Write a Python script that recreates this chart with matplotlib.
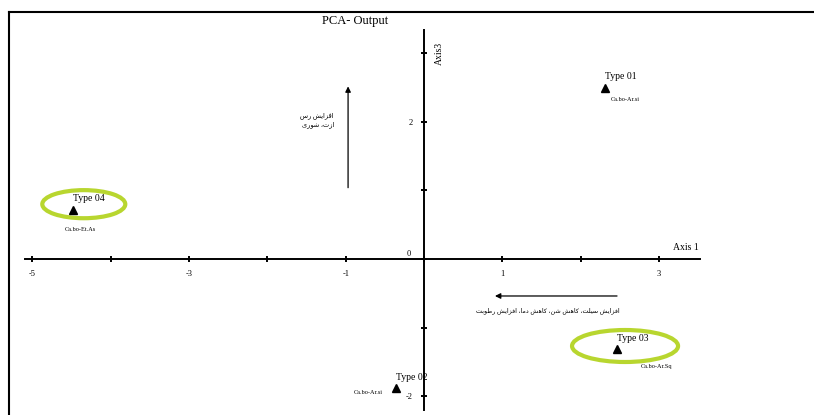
import matplotlib
matplotlib.use("Agg")
import matplotlib.pyplot as plt
from matplotlib.lines import Line2D
from matplotlib.patches import Ellipse

plt.rcParams["font.family"] = ["Liberation Serif", "DejaVu Sans"]

# ---- data ----
types = ["Type 01", "Type 02", "Type 03", "Type 04"]
groups = ["Ca.bo-Ar.si", "Ca.bo-Ar.si", "Ca.bo-Ar.Sq", "Ca.bo-Et.As"]
axis1 = [2.31, -0.36, 2.46, -4.48]
axis3 = [2.50, -1.88, -1.31, 0.72]
circled = ["Type 03", "Type 04"]

xticks = [-5, -4, -3, -2, -1, 0, 1, 2, 3]
xlabels = ["-5", "", "-3", "", "-1", "", "1", "", "3"]
yticks = [-2, -1, 0, 1, 2, 3]
ylabels = ["-2", "", "", "", "2", ""]

clay_text = ["افزایش رس", "ازت، شوری"]
silt_text = "افزایش سیلت، کاهش شن، کاهش دما، افزایش رطوبت"

# ---- minimal arabic shaping (matplotlib has no bidi) ----
FORMS = {  # iso, fin, init, med
    "ا": (0xFE8D, 0xFE8E, None, None), "ب": (0xFE8F, 0xFE90, 0xFE91, 0xFE92),
    "ت": (0xFE95, 0xFE96, 0xFE97, 0xFE98), "د": (0xFEA9, 0xFEAA, None, None),
    "ر": (0xFEAD, 0xFEAE, None, None), "ز": (0xFEAF, 0xFEB0, None, None),
    "س": (0xFEB1, 0xFEB2, 0xFEB3, 0xFEB4), "ش": (0xFEB5, 0xFEB6, 0xFEB7, 0xFEB8),
    "ط": (0xFEC1, 0xFEC2, 0xFEC3, 0xFEC4), "ف": (0xFED1, 0xFED2, 0xFED3, 0xFED4),
    "ل": (0xFEDD, 0xFEDE, 0xFEDF, 0xFEE0), "م": (0xFEE1, 0xFEE2, 0xFEE3, 0xFEE4),
    "ن": (0xFEE5, 0xFEE6, 0xFEE7, 0xFEE8), "ه": (0xFEE9, 0xFEEA, 0xFEEB, 0xFEEC),
    "و": (0xFEED, 0xFEEE, None, None), "ی": (0xFBFC, 0xFBFD, 0xFBFE, 0xFBFF),
    "ک": (0xFB8E, 0xFB8F, 0xFB90, 0xFB91),
}


def shape(s):
    out = []
    for i, ch in enumerate(s):
        f = FORMS.get(ch)
        if f is None:
            out.append(ch)
            continue
        prev = s[i - 1] if i > 0 else ""
        nxt = s[i + 1] if i + 1 < len(s) else ""
        jp = prev in FORMS and FORMS[prev][2] is not None
        jn = f[2] is not None and nxt in FORMS
        if jp and jn:
            cp = f[3]
        elif jp:
            cp = f[1]
        elif jn:
            cp = f[2]
        else:
            cp = f[0]
        out.append(chr(cp))
    return "".join(reversed(out))


fig = plt.figure(figsize=(8.14, 4.15), dpi=100)
ax = fig.add_axes([0, 0, 1, 1])
ax.set_xlim(-5.415, 4.98)
ax.set_ylim(-2.277, 3.78)
ax.patch.set_alpha(0)

for s in ["top", "right"]:
    ax.spines[s].set_visible(False)
ax.spines["bottom"].set_position(("data", 0))
ax.spines["left"].set_position(("data", 0))
ax.spines["bottom"].set_bounds(-5.1, 3.53)
ax.spines["left"].set_bounds(-2.2, 3.34)
for s in ["bottom", "left"]:
    ax.spines[s].set_linewidth(1.4)

ax.set_xticks(xticks)
ax.set_xticklabels(xlabels, fontsize=6)
ax.set_yticks(yticks)
ax.set_yticklabels(ylabels, fontsize=6)
ax.tick_params(direction="inout", length=4, width=1.4, pad=6)
ax.text(-0.2, 0.02, "0", fontsize=6, ha="center", va="bottom")

ax.text(3.35, 0.1, "Axis 1", fontsize=7, ha="center", va="bottom")
ax.text(0.2, 3.0, "Axis3", fontsize=7, rotation=90, ha="center", va="center")
ax.text(-0.88, 3.47, "PCA- Output", fontsize=9, ha="center", va="center")

# points
ax.plot(axis1, axis3, "^", color="black", markersize=5.5, linestyle="none")
name_off = {"Type 01": (0, 7), "Type 02": (0, 6), "Type 03": (0, 6), "Type 04": (0, 7)}
group_off = {"Type 01": (20, -9), "Type 02": (-28, -2), "Type 03": (40, -15), "Type 04": (7, -17)}
for t, g, x, y in zip(types, groups, axis1, axis3):
    ax.annotate(t, (x, y), xytext=name_off[t], textcoords="offset pixels",
                fontsize=7, ha="left", va="bottom")
    ax.annotate(g, (x, y), xytext=group_off[t], textcoords="offset pixels",
                fontsize=4.5, ha="center", va="top")

ell = {"Type 03": (2.567, -1.27, 1.354, 0.467), "Type 04": (-4.345, 0.80, 1.06, 0.41)}
for t in circled:
    cx, cy, w, h = ell[t]
    ax.add_patch(Ellipse((cx, cy), w, h, fill=False, edgecolor="#b8d62f", linewidth=3))

# trend arrows
ax.annotate("", xy=(-0.97, 2.56), xytext=(-0.97, 1.0),
            arrowprops=dict(arrowstyle="-|>", color="black", lw=0.9, mutation_scale=8))
ax.annotate("", xy=(0.87, -0.54), xytext=(2.50, -0.54),
            arrowprops=dict(arrowstyle="-|>", color="black", lw=0.9, mutation_scale=8))
ax.text(-1.15, 2.03, "\n".join(shape(l) for l in clay_text), fontsize=4.8,
        ha="right", va="center", linespacing=1.4)
ax.text(2.50, -0.75, shape(silt_text), fontsize=4.6, ha="right", va="center")

# page frame (top and left edges)
fig.add_artist(Line2D([9 / 814, 1], [1 - 12 / 415] * 2, color="black", lw=1.5,
                      transform=fig.transFigure))
fig.add_artist(Line2D([9 / 814] * 2, [0, 1 - 12 / 415], color="black", lw=1.5,
                      transform=fig.transFigure))

fig.savefig("out.png", dpi=100)
